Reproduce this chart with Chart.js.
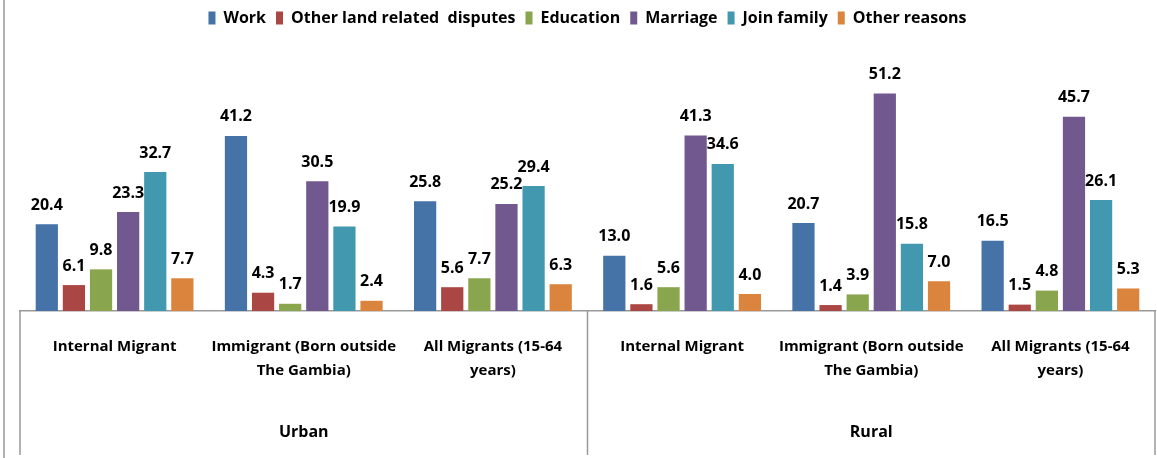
<!DOCTYPE html>
<html>
<head>
<meta charset="utf-8">
<script src="https://cdn.jsdelivr.net/npm/chart.js@4.4.1/dist/chart.umd.min.js"></script>
<style>
  html, body { margin: 0; padding: 0; background: #fff; }
  #wrap { width: 1157px; height: 458px; position: relative; }
</style>
</head>
<body>
<div id="wrap"><canvas id="migChart"></canvas></div>
<script>
const FONT = '"Open Sans", sans-serif';

const categories = [
  'Internal Migrant',
  ['Immigrant (Born outside', 'The Gambia)'],
  ['All Migrants (15-64', 'years)'],
  'Internal Migrant',
  ['Immigrant (Born outside', 'The Gambia)'],
  ['All Migrants (15-64', 'years)']
];
const groups = ['Urban', 'Rural'];
const groupSize = 3;

const seriesNames = ['Work', 'Other land related  disputes', 'Education', 'Marriage', 'Join family', 'Other reasons'];
const seriesColors = ['#4572A7', '#AA4643', '#89A54E', '#71588F', '#4198AF', '#DB843D'];

const work = [20.4, 41.2, 25.8, 13.0, 20.7, 16.5];
const landDisputes = [6.1, 4.3, 5.6, 1.6, 1.4, 1.5];
const education = [9.8, 1.7, 7.7, 5.6, 3.9, 4.8];
const marriage = [23.3, 30.5, 25.2, 41.3, 51.2, 45.7];
const joinFamily = [32.7, 19.9, 29.4, 34.6, 15.8, 26.1];
const otherReasons = [7.7, 2.4, 6.3, 4.0, 7.0, 5.3];

const seriesValues = [work, landDisputes, education, marriage, joinFamily, otherReasons];

const valueLabels = {
  id: 'valueLabels',
  afterDatasetsDraw(chart) {
    const ctx = chart.ctx;
    ctx.save();
    ctx.font = 'bold 16px ' + FONT;
    ctx.fillStyle = '#000';
    ctx.textAlign = 'center';
    ctx.textBaseline = 'middle';
    chart.data.datasets.forEach((ds, i) => {
      chart.getDatasetMeta(i).data.forEach((bar, j) => {
        ctx.fillText(ds.data[j].toFixed(1), bar.x, bar.y - 19);
      });
    });
    ctx.restore();
  }
};

const groupAxis = {
  id: 'groupAxis',
  afterDraw(chart) {
    const ctx = chart.ctx;
    const x = chart.scales.x;
    const area = chart.chartArea;
    const step = x.getPixelForValue(1) - x.getPixelForValue(0);
    ctx.save();
    ctx.strokeStyle = '#999';
    ctx.lineWidth = 1.5;
    // outer frame line at far left
    ctx.beginPath();
    ctx.moveTo(4, 0);
    ctx.lineTo(4, chart.height);
    ctx.stroke();
    const edges = [];
    for (let g = 0; g <= groups.length; g++) {
      const px = x.getPixelForValue(g * groupSize) - step / 2;
      edges.push(px);
      ctx.beginPath();
      ctx.moveTo(px, area.bottom);
      ctx.lineTo(px, chart.height - 3);
      ctx.stroke();
    }
    ctx.font = 'bold 16px ' + FONT;
    ctx.fillStyle = '#000';
    ctx.textAlign = 'center';
    ctx.textBaseline = 'middle';
    groups.forEach((name, g) => {
      ctx.fillText(name, (edges[g] + edges[g + 1]) / 2, 432);
    });
    ctx.restore();
  }
};

new Chart(document.getElementById('migChart'), {
  type: 'bar',
  data: {
    labels: categories,
    datasets: seriesNames.map((name, i) => ({
      label: name,
      data: seriesValues[i],
      backgroundColor: seriesColors[i],
      barPercentage: 0.82,
      categoryPercentage: 0.86
    }))
  },
  options: {
    responsive: true,
    maintainAspectRatio: false,
    animation: false,
    layout: { padding: { left: 20, right: 2, top: 0 } },
    plugins: {
      legend: {
        position: 'top',
        labels: {
          boxWidth: 7,
          boxHeight: 13,
          padding: 10,
          color: '#000',
          font: { family: FONT, size: 16, weight: 'bold' }
        }
      },
      tooltip: { enabled: false }
    },
    scales: {
      x: {
        grid: { display: false },
        border: { display: true, color: '#999', width: 1.5 },
        ticks: {
          color: '#000',
          maxRotation: 0,
          autoSkip: false,
          padding: 15,
          font: { family: FONT, size: 15, weight: 'bold', lineHeight: 1.65 }
        },
        afterFit(scale) { scale.height = 147; }
      },
      y: {
        display: false,
        min: 0,
        max: 64.7
      }
    }
  },
  plugins: [valueLabels, groupAxis]
});
</script>
</body>
</html>
